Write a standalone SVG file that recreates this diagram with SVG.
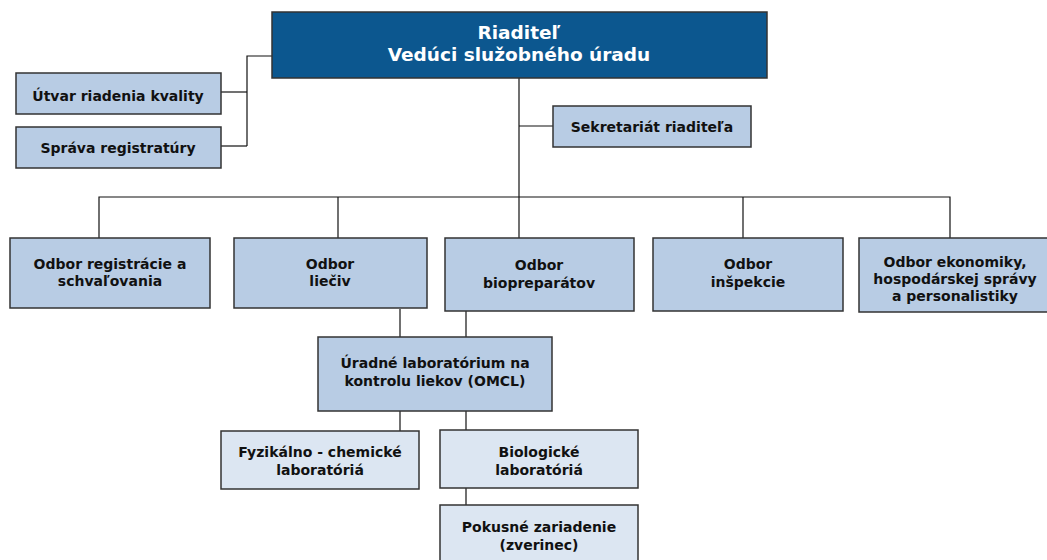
<svg xmlns="http://www.w3.org/2000/svg" width="1047" height="560" viewBox="0 0 1047 560">
<style>
.box{fill:#b8cce4;stroke:#333;stroke-width:1.5}
.lbox{fill:#dce6f2;stroke:#333;stroke-width:1.5}
.top{fill:#0c578f;stroke:#333;stroke-width:1.5}
text{font-family:"DejaVu Sans","Verdana",sans-serif;font-weight:bold;font-size:14px;fill:#111;text-anchor:middle;dominant-baseline:central}
.tt{fill:#fff;font-size:18.5px}
.con path{fill:none;stroke:#111;stroke-width:1.2}
</style>
<rect width="1047" height="560" fill="#fff"/>
<g class="con" id="connectors">
<path d="M272,56H247V146"/>
<path d="M221,92H247"/>
<path d="M221,146H247"/>
<path d="M519,78V197"/>
<path d="M519,126H553"/>
<path d="M99,238V197H950V238"/>
<path d="M338,197V238"/>
<path d="M519,197V238"/>
<path d="M743,197V238"/>
<path d="M400,309V337"/>
<path d="M466,311V337"/>
<path d="M400,411V431"/>
<path d="M466,411V430"/>
<path d="M466,488V505"/>
</g>
<g id="riaditel">
<rect class="top" x="272" y="12" width="495" height="66"/>
<text class="tt" x="519" y="32">Riaditeľ</text>
<text class="tt" x="519" y="54">Vedúci služobného úradu</text>
</g>
<g id="utvar">
<rect class="box" x="16" y="73" width="205" height="41"/>
<text x="118" y="96">Útvar riadenia kvality</text>
</g>
<g id="sprava">
<rect class="box" x="16" y="127" width="205" height="41"/>
<text x="118" y="148">Správa registratúry</text>
</g>
<g id="sekretariat">
<rect class="box" x="553" y="106" width="198" height="41"/>
<text x="652" y="127">Sekretariát riaditeľa</text>
</g>
<g id="registracie">
<rect class="box" x="10" y="238" width="200" height="70"/>
<text x="110" y="264">Odbor registrácie a</text>
<text x="110" y="281">schvaľovania</text>
</g>
<g id="lieciv">
<rect class="box" x="234" y="238" width="193" height="70"/>
<text x="330" y="264">Odbor</text>
<text x="330" y="281">liečiv</text>
</g>
<g id="biopreparatov">
<rect class="box" x="445" y="238" width="189" height="73"/>
<text x="539" y="265">Odbor</text>
<text x="539" y="283">biopreparátov</text>
</g>
<g id="inspekcie">
<rect class="box" x="653" y="238" width="190" height="73"/>
<text x="748" y="264">Odbor</text>
<text x="748" y="282">inšpekcie</text>
</g>
<g id="ekonomiky">
<rect class="box" x="859" y="238" width="194" height="74"/>
<text x="955" y="262">Odbor ekonomiky,</text>
<text x="955" y="279">hospodárskej správy</text>
<text x="955" y="296">a personalistiky</text>
</g>
<g id="omcl">
<rect class="box" x="318" y="337" width="234" height="74"/>
<text x="435" y="363">Úradné laboratórium na</text>
<text x="435" y="381">kontrolu liekov (OMCL)</text>
</g>
<g id="fyzikalno">
<rect class="lbox" x="221" y="431" width="198" height="58"/>
<text x="320" y="452">Fyzikálno - chemické</text>
<text x="320" y="470">laboratóriá</text>
</g>
<g id="biologicke">
<rect class="lbox" x="440" y="430" width="198" height="58"/>
<text x="539" y="452">Biologické</text>
<text x="539" y="470">laboratóriá</text>
</g>
<g id="pokusne">
<rect class="lbox" x="440" y="505" width="198" height="60"/>
<text x="539" y="527">Pokusné zariadenie</text>
<text x="539" y="545">(zverinec)</text>
</g>
</svg>
